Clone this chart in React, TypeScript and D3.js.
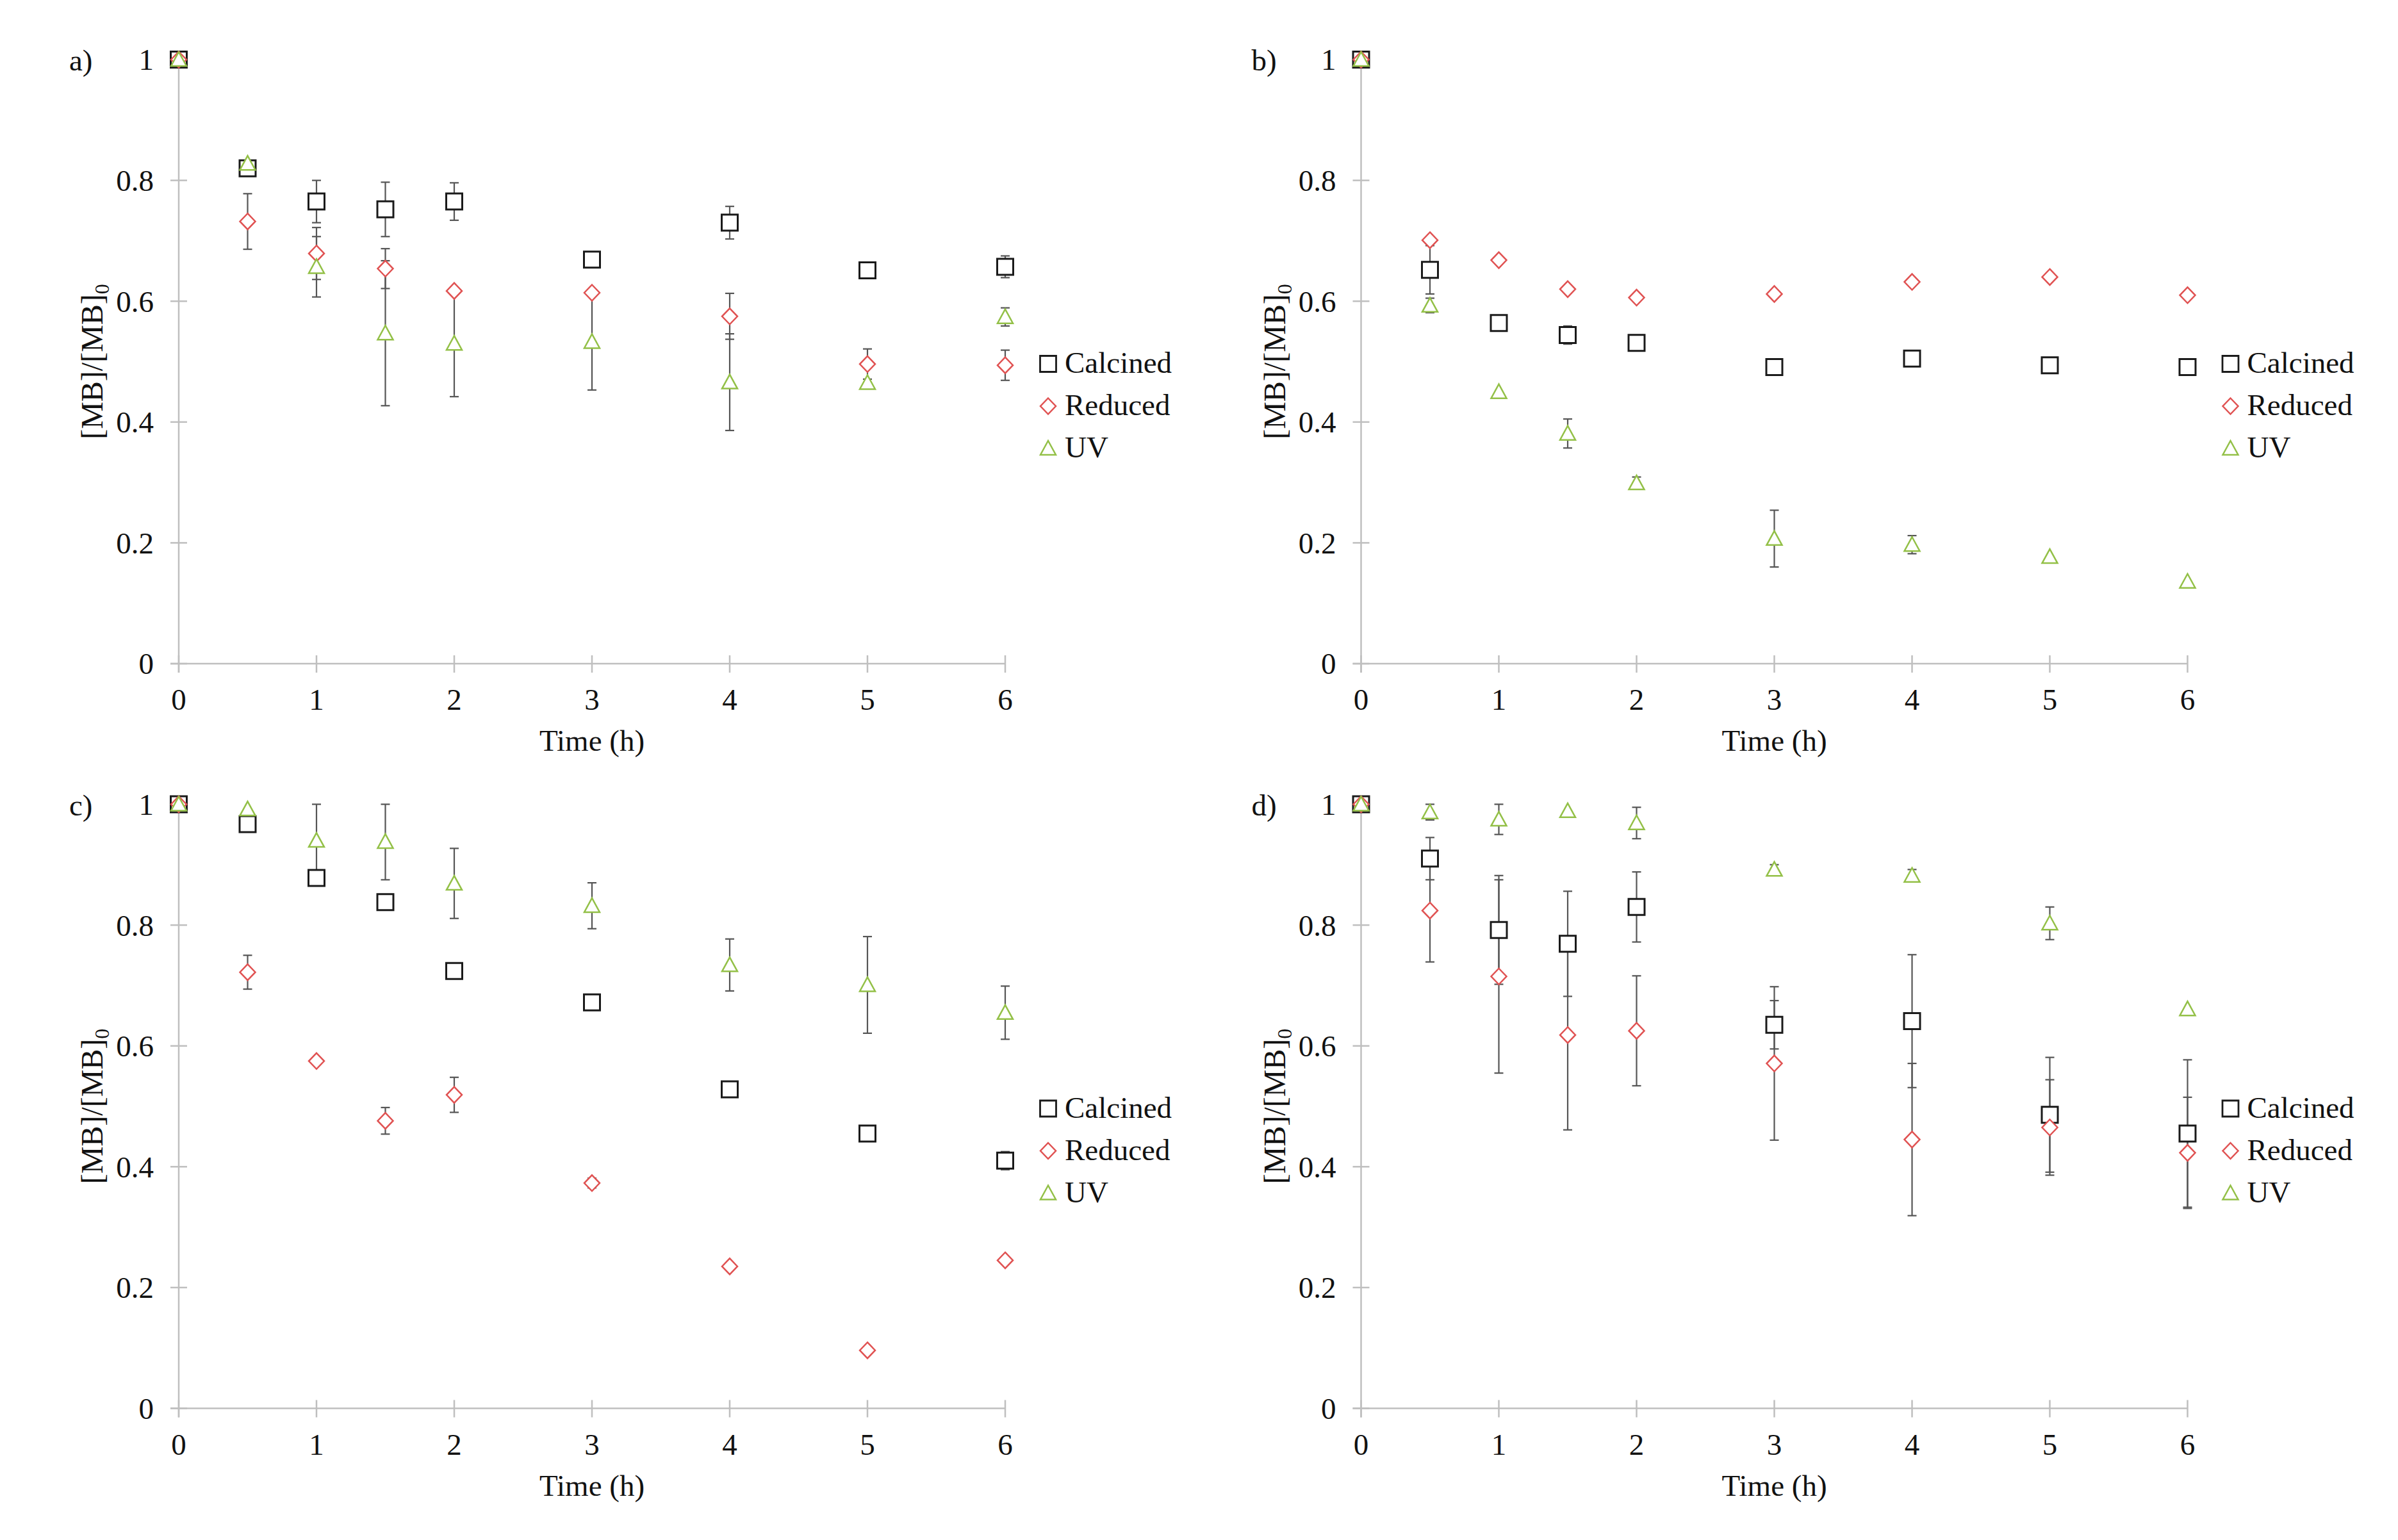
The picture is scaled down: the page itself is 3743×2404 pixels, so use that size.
import React from 'react'
import * as d3 from 'd3'

// sampling times (h)
const times = [0, 0.5, 1, 1.5, 2, 3, 4, 5, 6]
const xTicks = [0, 1, 2, 3, 4, 5, 6]
const yTicks = [0, 0.2, 0.4, 0.6, 0.8, 1]
const seriesNames = ['Calcined', 'Reduced', 'UV']

// a)
const calcA = [1, 0.82, 0.765, 0.752, 0.765, 0.669, 0.73, 0.651, 0.657]
const calcAErr = [0, 0, 0.035, 0.045, 0.031, 0.012, 0.027, 0, 0.018]
const redA = [1, 0.732, 0.679, 0.654, 0.617, 0.614, 0.575, 0.496, 0.494]
const redAErr = [0, 0.046, 0.043, 0.033, 0, 0, 0.038, 0.025, 0.025]
const uvA = [1, 0.828, 0.657, 0.547, 0.53, 0.533, 0.466, 0.465, 0.574]
const uvAErr = [0, 0, 0.05, 0.12, 0.088, 0.08, 0.08, 0, 0.015]

// b)
const calcB = [1, 0.652, 0.564, 0.544, 0.531, 0.491, 0.505, 0.494, 0.491]
const calcBErr = [0, 0.04, 0, 0.015, 0, 0, 0.008, 0, 0]
const redB = [1, 0.701, 0.668, 0.62, 0.606, 0.612, 0.632, 0.64, 0.61]
const redBErr = [0, 0, 0, 0, 0, 0, 0, 0, 0]
const uvB = [1, 0.593, 0.45, 0.381, 0.299, 0.207, 0.197, 0.177, 0.136]
const uvBErr = [0, 0.012, 0, 0.024, 0.01, 0.047, 0.015, 0, 0]

// c)
const calcC = [1, 0.967, 0.878, 0.838, 0.724, 0.672, 0.528, 0.455, 0.41]
const calcCErr = [0, 0.012, 0, 0.008, 0, 0, 0.01, 0, 0.015]
const redC = [1, 0.722, 0.575, 0.476, 0.519, 0.373, 0.235, 0.096, 0.245]
const redCErr = [0, 0.028, 0, 0.022, 0.029, 0.008, 0, 0, 0]
const uvC = [1, 0.992, 0.94, 0.938, 0.869, 0.832, 0.734, 0.701, 0.655]
const uvCErr = [0, 0, 0.06, 0.063, 0.058, 0.038, 0.043, 0.08, 0.044]

// d)
const calcD = [1, 0.91, 0.792, 0.769, 0.83, 0.635, 0.641, 0.486, 0.455]
const calcDErr = [0, 0.035, 0.09, 0.087, 0.058, 0.04, 0.11, 0.095, 0.122]
const redD = [1, 0.824, 0.715, 0.618, 0.625, 0.571, 0.445, 0.465, 0.423]
const redDErr = [0, 0.085, 0.16, 0.157, 0.091, 0.127, 0.126, 0.079, 0.092]
const uvD = [1, 0.987, 0.975, 0.989, 0.969, 0.892, 0.882, 0.803, 0.661]
const uvDErr = [0, 0.013, 0.025, 0, 0.026, 0.008, 0.01, 0.027, 0]

const panels = [
  { label: 'a)', dx: 0, dy: 0, series: [[calcA, calcAErr], [redA, redAErr], [uvA, uvAErr]] },
  { label: 'b)', dx: 1845.5, dy: 0, series: [[calcB, calcBErr], [redB, redBErr], [uvB, uvBErr]] },
  { label: 'c)', dx: 0, dy: 1162.5, series: [[calcC, calcCErr], [redC, redCErr], [uvC, uvCErr]] },
  { label: 'd)', dx: 1845.5, dy: 1162.5, series: [[calcD, calcDErr], [redD, redDErr], [uvD, uvDErr]] }
]

const colors = ['#1a1a1a', '#e05252', '#93c047']
const font = '"Liberation Serif", "Times New Roman", serif'
const axisColor = '#bfbfbf'

function markerPath(kind, x, y) {
  const p = d3.path()
  if (kind === 0) {
    p.rect(x - 12.5, y - 12.5, 25, 25)
  } else if (kind === 1) {
    p.moveTo(x, y - 12.5)
    p.lineTo(x + 12, y)
    p.lineTo(x, y + 12.5)
    p.lineTo(x - 12, y)
    p.closePath()
  } else {
    p.moveTo(x, y - 12)
    p.lineTo(x + 12, y + 10)
    p.lineTo(x - 12, y + 10)
    p.closePath()
  }
  return p.toString()
}

function Panel({ panel }) {
  const xScale = d3.scaleLinear().domain([0, 6]).range([279, 1569])
  const yScale = d3.scaleLinear().domain([0, 1]).range([1036, 93])
  const x0 = xScale(0)
  const yBase = yScale(0)

  return (
    <g transform={`translate(${panel.dx}, ${panel.dy})`}>
      {/* axes */}
      <line x1={x0} x2={x0} y1={yScale(1)} y2={yBase + 14} stroke={axisColor} strokeWidth={2.5} />
      <line x1={x0 - 13} x2={xScale(6)} y1={yBase} y2={yBase} stroke={axisColor} strokeWidth={2.5} />
      {yTicks.map(t => (
        <g key={'y' + t}>
          <line x1={x0 - 13} x2={x0 + 13} y1={yScale(t)} y2={yScale(t)} stroke={axisColor} strokeWidth={2.5} />
          <text x={240} y={yScale(t)} dy="0.35em" textAnchor="end" fontFamily={font} fontSize={47} fill="#111">
            {t === 0 || t === 1 ? String(t) : t.toFixed(1)}
          </text>
        </g>
      ))}
      {xTicks.map(t => (
        <g key={'x' + t}>
          <line x1={xScale(t)} x2={xScale(t)} y1={yBase - 13} y2={yBase + 14} stroke={axisColor} strokeWidth={2.5} />
          <text x={xScale(t)} y={yBase + 72} textAnchor="middle" fontFamily={font} fontSize={47} fill="#111">
            {t}
          </text>
        </g>
      ))}

      <text x={xScale(3)} y={1172} textAnchor="middle" fontFamily={font} fontSize={47} fill="#111">
        Time (h)
      </text>
      <text transform={`translate(160, ${(yScale(0) + yScale(1)) / 2}) rotate(-90)`} textAnchor="middle" fontFamily={font} fontSize={48} fill="#111">
        [MB]/[MB]<tspan fontSize={32} dy={10}>0</tspan>
      </text>
      <text x={108} y={110} fontFamily={font} fontSize={47} fill="#111">
        {panel.label}
      </text>

      {/* error bars */}
      {panel.series.map(([vals, errs], si) =>
        times.map((t, i) => {
          const e = errs[i]
          if (!e) return null
          const cx = xScale(t)
          const top = yScale(Math.min(1, vals[i] + e))
          const bot = yScale(vals[i] - e)
          return (
            <g key={`e${si}-${i}`} stroke="#555" strokeWidth={2.2}>
              <line x1={cx} x2={cx} y1={top} y2={bot} />
              <line x1={cx - 7} x2={cx + 7} y1={top} y2={top} />
              <line x1={cx - 7} x2={cx + 7} y1={bot} y2={bot} />
            </g>
          )
        })
      )}

      {/* markers */}
      {panel.series.map(([vals], si) =>
        times.map((t, i) => (
          <path
            key={`m${si}-${i}`}
            d={markerPath(si, xScale(t), yScale(vals[i]))}
            fill="white"
            stroke={colors[si]}
            strokeWidth={si === 0 ? 3 : 2.5}
          />
        ))
      )}

      {/* legend */}
      {seriesNames.map((name, si) => (
        <g key={name}>
          <path d={markerPath(si, 1636, 568 + si * 66)} fill="white" stroke={colors[si]} strokeWidth={si === 0 ? 2.8 : 2.5} />
          <text x={1662} y={582 + si * 66} fontFamily={font} fontSize={47} fill="#111">
            {name}
          </text>
        </g>
      ))}
    </g>
  )
}

export default function App() {
  return (
    <svg
      width={3743}
      height={2404}
      style={{ position: 'absolute', left: 0, top: 0, background: 'white' }}
    >
      <rect width={3743} height={2404} fill="white" />
      {panels.map(p => (
        <Panel key={p.label} panel={p} />
      ))}
    </svg>
  )
}
